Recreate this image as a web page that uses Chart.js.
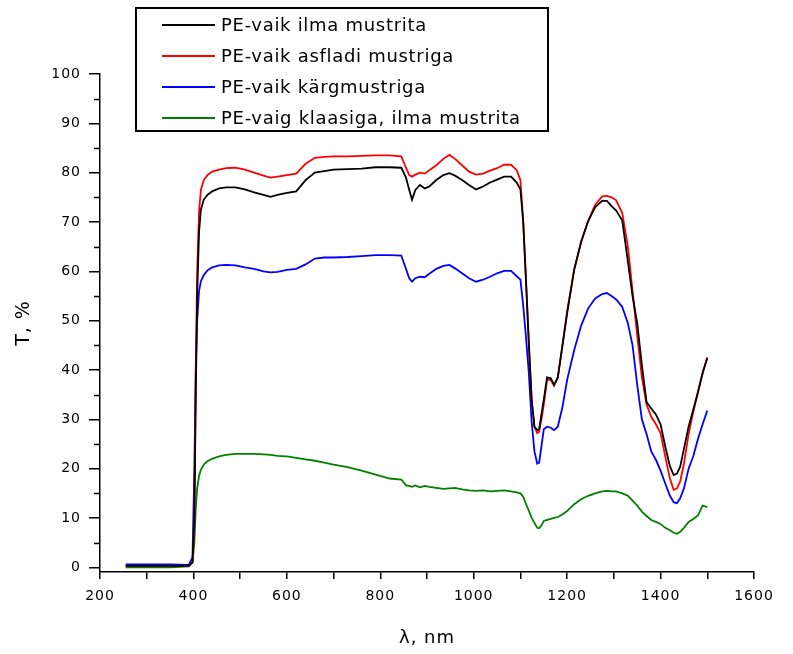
<!DOCTYPE html>
<html>
<head>
<meta charset="utf-8">
<script src="https://cdn.jsdelivr.net/npm/chart.js@4.4.1/dist/chart.umd.min.js"></script>
<style>
  html, body { margin: 0; padding: 0; background: #fff; }
  #wrap { width: 793px; height: 654px; position: relative; }
</style>
</head>
<body>
<div id="wrap"><canvas id="myChart"></canvas></div>
<script>
// wavelength, nm
var wl = [255,300,350,390,398,402,405,408,412,416,422,430,440,455,470,490,510,530,550,565,
  580,600,620,640,660,680,700,730,760,790,820,845,855,862,868,875,885,895,905,920,
  935,948,960,975,990,1005,1020,1035,1050,1065,1080,1092,1100,1106,1112,1118,1124,1130,1136,1140,
  1145,1150,1157,1165,1172,1180,1190,1200,1215,1230,1245,1260,1275,1285,1295,1305,1318,1330,1340,1350,
  1360,1370,1380,1390,1400,1410,1420,1428,1435,1442,1450,1460,1470,1480,1490,1500];

// transmittance, %
var tBlack = [0.3,0.3,0.3,0.3,1,10,35,55,68,72.5,74.5,75.5,76.2,76.8,77,77,76.6,76,75.5,75.1,
  75.5,75.9,76.2,78.5,80,80.3,80.6,80.7,80.8,81.1,81.1,81,79,76.5,74.5,76.5,77.5,76.8,77.2,78.5,
  79.5,79.9,79.4,78.5,77.5,76.6,77.2,78,78.6,79.2,79.2,78,76.6,70,58,45,34,28.5,27.8,28,
  31,34,38.5,38.3,37,38.5,45,51.5,60.3,66,70.2,73,74.3,74.3,73.2,72.3,70.3,62,55,49.5,
  41,33.5,32.2,31,29,24.5,20.5,18.7,19,20.4,24,28.5,32,35.5,39.4,42.4];
var tRed = [0.3,0.3,0.3,0.3,1,10,40,60,72,76.5,78.5,79.5,80.2,80.6,80.9,81,80.6,80,79.4,79,
  79.2,79.5,79.8,81.8,83,83.2,83.3,83.3,83.4,83.5,83.5,83.3,81,79.5,79.2,79.6,80,79.8,80.5,81.5,
  82.8,83.6,82.8,81.5,80.2,79.6,79.8,80.4,80.9,81.6,81.6,80.5,78.5,70,58,46,34,28.5,27.2,27.5,
  30,33,38,38,36.8,38.5,45,52,60.3,66,70.2,73.5,75.2,75.3,75,74.4,71.8,65,56,47,
  38.5,33,30.5,29,27.2,22.5,18,15.7,16,17.4,21,27,31.5,35.5,39.4,42.6];
var tBlue = [0.6,0.6,0.6,0.5,2,20,40,50,56,58,59.2,60.2,60.8,61.2,61.3,61.2,60.8,60.5,60,59.8,
  59.9,60.3,60.5,61.4,62.6,62.8,62.8,62.9,63.1,63.3,63.3,63.2,60.5,58.6,57.9,58.6,58.9,58.8,59.5,60.5,
  61.1,61.3,60.6,59.6,58.6,57.9,58.3,58.9,59.6,60.1,60.1,59,58.3,53,46.5,39.4,29.5,23.5,21,21.2,
  24.5,28,28.5,28.3,27.8,28.5,32.5,38,44,49,52.5,54.5,55.4,55.6,55,54.3,52.8,49.5,45,37,
  30,27,23.5,21.8,19.6,17,14.5,13.2,13,14,16,20,22.5,26,29,31.8];
var tGreen = [0,0,0,0.2,1,5,12,16,18.5,19.8,20.8,21.5,22,22.5,22.8,23,23,23,22.9,22.8,
  22.6,22.5,22.2,21.9,21.6,21.2,20.8,20.3,19.6,18.8,18,17.8,16.6,16.5,16.3,16.6,16.2,16.5,16.3,16.1,
  15.9,16,16.1,15.8,15.6,15.5,15.6,15.4,15.5,15.6,15.4,15.2,15,14.3,12.8,11.5,10,9,8,7.9,
  8.5,9.4,9.6,9.8,10,10.2,10.7,11.4,12.8,13.8,14.5,15,15.4,15.5,15.4,15.4,15,14.5,13.5,12.5,
  11.3,10.4,9.6,9.2,8.8,8,7.5,7,6.8,7.2,8,9.2,9.8,10.5,12.5,12.2];

var seriesNames = ["PE-vaik ilma mustrita", "PE-vaik asfladi mustriga", "PE-vaik kärgmustriga", "PE-vaig klaasiga, ilma mustrita"];
var seriesColors = ["#000000", "#ff0000", "#0000ff", "#008000"];
var seriesValues = [tBlack, tRed, tBlue, tGreen];

function pts(vals) {
  return wl.map(function (w, i) { return { x: w, y: vals[i] }; });
}

var boxLegend = {
  id: 'boxLegend',
  beforeDraw: function (chart) {
    chart.ctx.letterSpacing = '1px';
  },
  afterDraw: function (chart) {
    var c = chart.ctx;
    var ys = chart.scales.y;
    c.save();
    // minor ticks on y axis
    c.strokeStyle = '#000';
    c.lineWidth = 1.5;
    for (var v = 5; v < 100; v += 10) {
      var py = Math.round(ys.getPixelForValue(v)) + 0.5;
      c.beginPath();
      c.moveTo(ys.right - 6, py);
      c.lineTo(ys.right, py);
      c.stroke();
    }
    // legend box
    c.fillStyle = '#fff';
    c.fillRect(136, 8, 412, 123);
    c.lineWidth = 2;
    c.strokeStyle = '#000';
    c.strokeRect(136, 8, 412, 123);
    c.font = '18px "DejaVu Sans"';
    c.letterSpacing = '0.7px';
    c.textBaseline = 'middle';
    chart.data.datasets.forEach(function (ds, i) {
      var y = 25 + i * 31;
      c.strokeStyle = ds.borderColor;
      c.lineWidth = 2;
      c.beginPath();
      c.moveTo(162, y);
      c.lineTo(215, y);
      c.stroke();
      c.fillStyle = '#000';
      c.fillText(ds.label, 221, y + 1);
    });
    c.restore();
  }
};

window.onload = function () {
  var myChart = new Chart(document.getElementById("myChart"), {
    type: 'line',
    data: {
      datasets: seriesNames.map(function (n, i) {
        return {
          label: n,
          data: pts(seriesValues[i]),
          borderColor: seriesColors[i],
          backgroundColor: seriesColors[i],
          borderWidth: 1.8,
          pointRadius: 0,
          tension: 0,
          fill: false
        };
      })
    },
    options: {
      responsive: true,
      maintainAspectRatio: false,
      animation: false,
      layout: { padding: { left: 0, right: 39, top: 74, bottom: 0 } },
      plugins: {
        legend: { display: false },
        tooltip: { enabled: false }
      },
      scales: {
        x: {
          type: 'linear',
          min: 200,
          max: 1600,
          afterFit: function (s) { s.height = 82; },
          ticks: {
            stepSize: 100,
            autoSkip: false,
            maxRotation: 0,
            padding: 9,
            color: '#000',
            font: { family: 'DejaVu Sans', size: 14 },
            callback: function (v) { return v % 200 === 0 ? String(v) : ''; }
          },
          grid: { drawOnChartArea: false, tickLength: 7, color: '#000', lineWidth: 1.5 },
          border: { color: '#000', width: 1.5 },
          title: {
            display: true,
            text: 'λ, nm',
            color: '#000',
            font: { family: 'DejaVu Sans', size: 18 },
            padding: { top: 0, bottom: 5 }
          }
        },
        y: {
          min: -0.95,
          max: 100,
          afterFit: function (s) { s.width = 100; },
          ticks: {
            stepSize: 10,
            includeBounds: false,
            padding: 8,
            color: '#000',
            font: { family: 'DejaVu Sans', size: 14 }
          },
          grid: { drawOnChartArea: false, tickLength: 11, color: '#000', lineWidth: 1.5 },
          border: { color: '#000', width: 1.5 },
          title: {
            display: true,
            text: 'T, %',
            color: '#000',
            font: { family: 'DejaVu Sans', size: 19 },
            padding: { top: 13, bottom: 0 }
          }
        }
      }
    },
    plugins: [boxLegend]
  });
};
</script>
</body>
</html>
